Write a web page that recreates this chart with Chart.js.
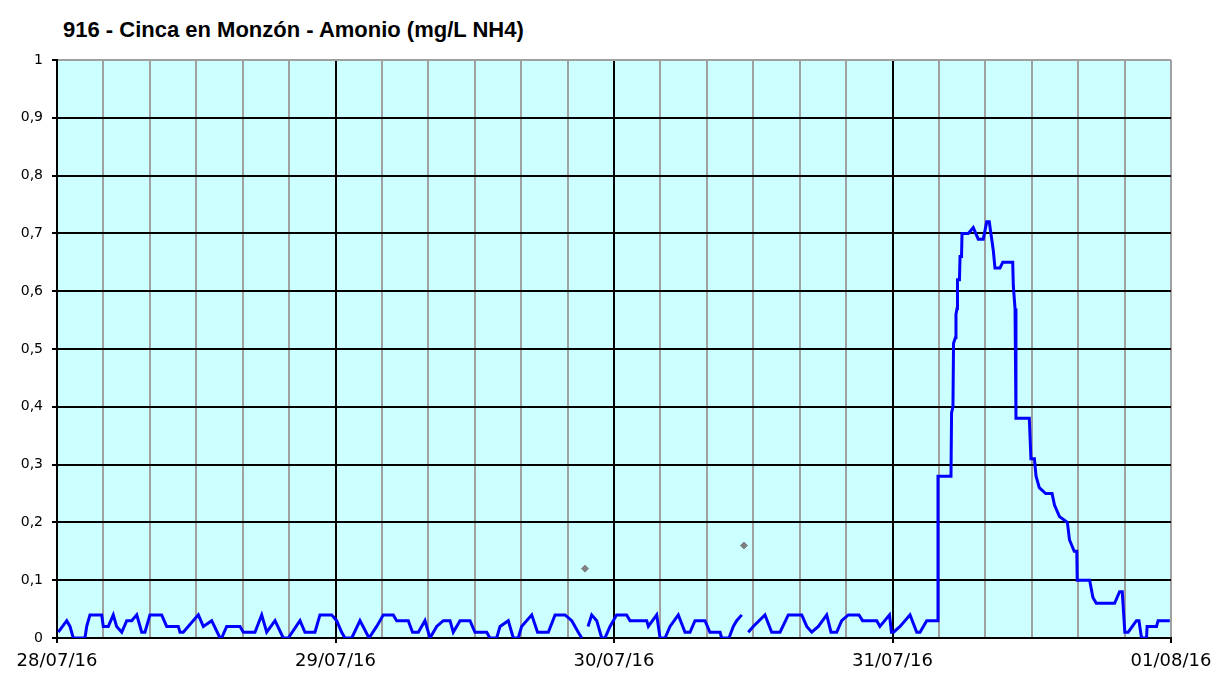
<!DOCTYPE html>
<html>
<head>
<meta charset="utf-8">
<script src="https://cdn.jsdelivr.net/npm/chart.js@4.4.1/dist/chart.umd.min.js"></script>
<style>
  body { margin: 0; background: #fff; }
  #wrap { position: relative; width: 1217px; height: 673px; }
  #title {
    position: absolute; left: 63px; top: 19px;
    font: bold 22px "Liberation Sans", Arial, sans-serif; line-height: 22px;
    color: #000; white-space: nowrap;
  }
  canvas { position: absolute; left: 0; top: 0; }
</style>
</head>
<body>
<div id="wrap">
  <div id="title">916 - Cinca en Monzón - Amonio (mg/L NH4)</div>
  <canvas id="chart" width="1217" height="673"></canvas>
</div>
<script>
// hours since 28/07/16 00:00
const hours = [
  0.11, 0.84, 1.12, 1.40, 2.41, 2.56, 2.84, 3.85, 3.99, 4.42, 4.85, 5.14, 5.58, 6.01, 6.44, 6.87,
  7.30, 7.58, 8.01, 9.02, 9.45, 10.45, 10.60, 10.88, 12.18, 12.61, 13.33, 14.05, 14.19, 14.62, 15.77, 16.06,
  17.06, 17.64, 18.07, 18.79, 19.50, 19.93, 20.94, 21.37, 22.23, 22.66, 23.67, 24.10, 24.53, 24.82, 25.40, 26.11,
  26.89, 27.55, 28.12, 28.98, 29.27, 30.27, 30.64, 31.14, 31.71, 32.14, 32.72, 33.29, 33.87, 34.15, 34.73, 35.59,
  36.02, 37.03, 37.31, 37.89, 38.18, 38.89, 39.32, 39.75, 40.04, 40.91, 41.41, 42.34, 42.92, 43.78, 44.36, 44.92,
  45.22, 45.50, 45.76, 46.08, 46.51, 46.94, 47.22, 47.66, 48.23, 49.09, 49.38, 50.82, 50.96, 51.68, 51.97, 52.40,
  52.83, 53.54, 54.12, 54.55, 54.98, 55.84, 56.27, 57.14, 57.28, 57.91, 58.28, 58.57, 59.01, 59.20, 59.57, 60.00,
  61.01, 61.59, 62.31, 63.02, 64.18, 64.61, 65.04, 65.61, 66.33, 66.70, 67.19, 67.62, 68.19, 69.11, 69.42, 70.64,
  70.92, 71.74, 71.91, 72.09, 72.65, 73.51, 74.09, 74.37, 74.95, 75.88, 75.92, 77.04, 77.09, 77.21, 77.26, 77.43,
  77.47, 77.56, 77.60, 77.77, 77.82, 77.95, 77.99, 78.53, 78.96, 79.39, 79.82, 80.12, 80.34, 80.55, 80.69, 80.83,
  81.26, 81.50, 82.36, 82.41, 82.56, 82.64, 83.79, 83.93, 84.23, 84.37, 84.65, 85.20, 85.75, 85.96, 86.39, 87.07,
  87.25, 87.66, 87.88, 87.92, 88.99, 89.27, 89.56, 91.14, 91.57, 91.80, 92.02, 92.31, 93.02, 93.24, 93.46, 93.89,
  93.94, 94.75, 94.89, 95.90
];
// amonio mg/L NH4 (null = hueco)
const values = [
  0.01, 0.03, 0.02, 0, 0, 0.02, 0.04, 0.04, 0.02, 0.02, 0.04, 0.02, 0.01, 0.03, 0.03, 0.04,
  0.01, 0.01, 0.04, 0.04, 0.02, 0.02, 0.01, 0.01, 0.04, 0.02, 0.03, 0, 0, 0.02, 0.02, 0.01,
  0.01, 0.04, 0.01, 0.03, 0, 0, 0.03, 0.01, 0.01, 0.04, 0.04, 0.03, 0.01, 0, 0, 0.03,
  0, 0.02, 0.04, 0.04, 0.03, 0.03, 0.01, 0.01, 0.03, 0, 0.02, 0.03, 0.03, 0.01, 0.03, 0.03,
  0.01, 0.01, 0, 0, 0.02, 0.03, 0, 0, 0.02, 0.04, 0.01, 0.01, 0.04, 0.04, 0.03, 0.01,
  0, null, 0.02, 0.04, 0.03, 0, 0, 0.02, 0.04, 0.04, 0.03, 0.03, 0.02, 0.04, 0, 0,
  0.02, 0.04, 0.01, 0.01, 0.03, 0.03, 0.01, 0.01, 0, 0, 0.02, 0.03, 0.04, null, 0.01, 0.02,
  0.04, 0.01, 0.01, 0.04, 0.04, 0.02, 0.01, 0.02, 0.04, 0.01, 0.01, 0.03, 0.04, 0.04, 0.03, 0.03,
  0.02, 0.04, 0.01, 0.01, 0.02, 0.04, 0.01, 0.01, 0.03, 0.03, 0.28, 0.28, 0.39, 0.40, 0.51, 0.52,
  0.56, 0.57, 0.62, 0.62, 0.66, 0.66, 0.70, 0.70, 0.71, 0.69, 0.69, 0.72, 0.72, 0.69, 0.67, 0.64,
  0.64, 0.65, 0.65, 0.61, 0.57, 0.38, 0.38, 0.31, 0.31, 0.28, 0.26, 0.25, 0.25, 0.23, 0.21, 0.20,
  0.17, 0.15, 0.15, 0.10, 0.10, 0.07, 0.06, 0.06, 0.08, 0.08, 0.01, 0.01, 0.03, 0.03, 0, 0,
  0.02, 0.02, 0.03, 0.03
];
// isolated grey points
const flaggedHours = [45.50, 59.20];
const flaggedValues = [0.12, 0.16];

const dayLabels = ["28/07/16", "29/07/16", "30/07/16", "31/07/16", "01/08/16"];
const yTickLabels = ["0", "0,1", "0,2", "0,3", "0,4", "0,5", "0,6", "0,7", "0,8", "0,9", "1"];

const plotBg = {
  id: "plotBg",
  beforeDraw(chart) {
    const { ctx, chartArea: a } = chart;
    ctx.save();
    ctx.fillStyle = "#ccffff";
    ctx.fillRect(a.left, a.top, a.right - a.left, a.bottom - a.top);
    ctx.restore();
  }
};

new Chart(document.getElementById("chart"), {
  type: "line",
  data: {
    datasets: [
      {
        data: hours.map((h, i) => ({ x: h, y: values[i] })),
        borderColor: "#0000ff",
        borderWidth: 3,
        pointRadius: 0,
        tension: 0,
        spanGaps: false
      },
      {
        data: flaggedHours.map((h, i) => ({ x: h, y: flaggedValues[i] })),
        showLine: false,
        pointStyle: "rectRot",
        pointRadius: 3.5,
        backgroundColor: "#808080",
        borderColor: "#808080"
      }
    ]
  },
  options: {
    responsive: false,
    animation: false,
    layout: { padding: { top: 60, right: 46, left: 0, bottom: 0 } },
    plugins: {
      legend: { display: false },
      tooltip: { enabled: false }
    },
    scales: {
      x: {
        type: "linear",
        min: 0,
        max: 96,
        afterFit: (s) => {
          s.height = 35;
          s.paddingLeft = 0;
          s.paddingRight = 0;
        },
        ticks: {
          stepSize: 4,
          autoSkip: false,
          maxRotation: 0,
          padding: 8,
          color: "#000",
          font: { family: "DejaVu Sans", size: 18 },
          callback: (v) => (v % 24 === 0 ? dayLabels[v / 24] : "")
        },
        grid: {
          color: (c) => (c.tick && c.tick.value % 24 === 0 && c.tick.value !== 96 ? "#000" : "#a0a0a0"),
          tickColor: (c) => (c.tick && c.tick.value % 24 === 0 ? "#000" : "transparent"),
          lineWidth: 2,
          tickLength: 5
        },
        border: { color: "#000", width: 2 }
      },
      y: {
        min: 0,
        max: 1,
        afterFit: (s) => { s.width = 57; },
        ticks: {
          stepSize: 0.1,
          padding: 9,
          color: "#000",
          font: { family: "DejaVu Sans", size: 14 },
          callback: (v) => yTickLabels[Math.round(v * 10)]
        },
        grid: {
          color: (c) => (c.tick && Math.round(c.tick.value * 10) === 10 ? "#a0a0a0" : "#000"),
          tickColor: "#000",
          lineWidth: 2,
          tickLength: 5
        },
        border: { color: "#000", width: 2 }
      }
    }
  },
  plugins: [plotBg]
});
</script>
</body>
</html>
